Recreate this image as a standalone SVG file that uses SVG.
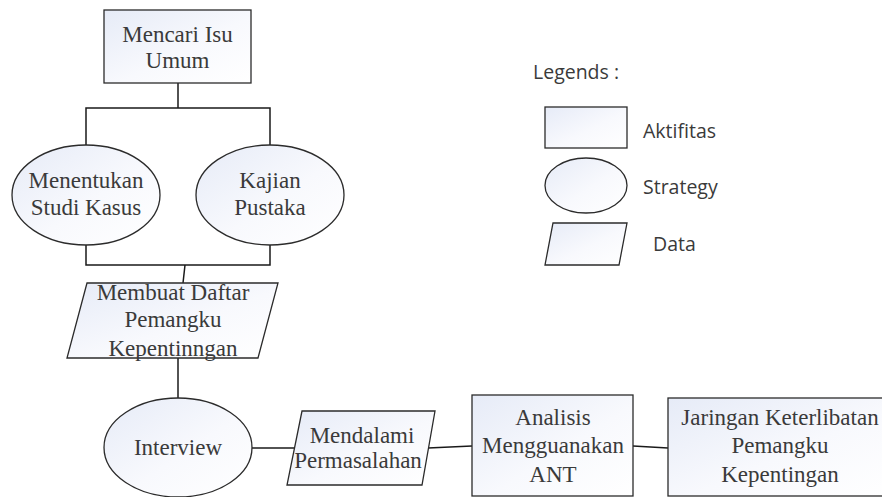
<svg xmlns="http://www.w3.org/2000/svg" width="882" height="497" viewBox="0 0 882 497">
<defs>
<linearGradient id="g" x1="0" y1="0" x2="1" y2="1">
<stop offset="0" stop-color="#e6ebf7"/>
<stop offset="0.55" stop-color="#f8f9fd"/>
<stop offset="1" stop-color="#ffffff"/>
</linearGradient>
<style>
.s{fill:url(#g);stroke:#2b2b2b;stroke-width:1.3}
.c{fill:none;stroke:#1a1a1a;stroke-width:1.5}
.t{font-family:"Liberation Serif","Times New Roman",serif;font-size:23px;fill:#3a3a3a;text-anchor:middle}
.l{font-family:"Open Sans","Noto Sans",sans-serif;font-size:19.5px;fill:#3a3a3a}
</style>
</defs>
<rect width="882" height="497" fill="#ffffff"/>
<g id="connectors">
<path class="c" d="M178 83V108M86 145V108H270V145"/>
<path class="c" d="M86 245V265H270V245M185 265L183 283"/>
<path class="c" d="M178 358V398"/>
<path class="c" d="M251 448H295"/>
<path class="c" d="M428 448L472 446"/>
<path class="c" d="M633 446L668 448"/>
</g>
<g id="n1"><rect class="s" x="104" y="10" width="147" height="73"/>
<text class="t" x="177.5" y="42">Mencari Isu</text><text class="t" x="177.5" y="68">Umum</text></g>
<g id="n2"><ellipse class="s" cx="86" cy="195" rx="74" ry="50"/>
<text class="t" x="86" y="188">Menentukan</text><text class="t" x="86" y="215">Studi Kasus</text></g>
<g id="n3"><ellipse class="s" cx="270" cy="195" rx="74" ry="50"/>
<text class="t" x="270" y="188">Kajian</text><text class="t" x="270" y="215">Pustaka</text></g>
<g id="n4"><polygon class="s" points="87,283 278,283 258,358 67,358"/>
<text class="t" x="173" y="300">Membuat Daftar</text><text class="t" x="173" y="327">Pemangku</text><text class="t" x="173" y="356">Kepentinngan</text></g>
<g id="n5"><ellipse class="s" cx="178" cy="447.5" rx="74" ry="49.5"/>
<text class="t" x="178" y="455">Interview</text></g>
<g id="n6"><polygon class="s" points="302,411 435,411 422,485 287,485"/>
<text class="t" x="362" y="443">Mendalami</text><text class="t" x="358" y="468">Permasalahan</text></g>
<g id="n7"><rect class="s" x="472" y="395" width="161" height="101"/>
<text class="t" x="553" y="425">Analisis</text><text class="t" x="553" y="453">Mengguanakan</text><text class="t" x="553" y="482">ANT</text></g>
<g id="n8"><rect class="s" x="668" y="398" width="224" height="98"/>
<text class="t" x="780" y="425">Jaringan Keterlibatan</text><text class="t" x="780" y="453">Pemangku</text><text class="t" x="780" y="482">Kepentingan</text></g>
<g id="legend">
<text class="l" x="533" y="79">Legends :</text>
<rect class="s" x="545" y="107" width="82" height="41"/>
<text class="l" x="643" y="138">Aktifitas</text>
<ellipse class="s" cx="586" cy="185.5" rx="41" ry="27.5"/>
<text class="l" x="643" y="194">Strategy</text>
<polygon class="s" points="553,223 627,223 619,265 545,265"/>
<text class="l" x="653" y="251">Data</text>
</g>
</svg>
